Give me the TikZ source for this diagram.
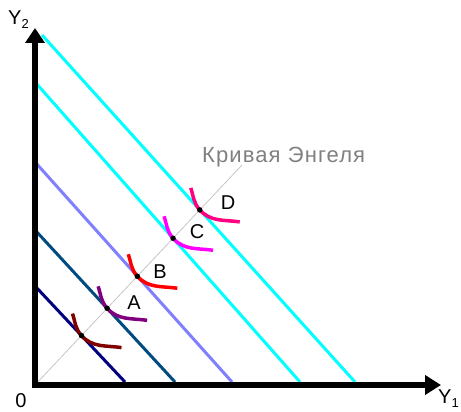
\documentclass[tikz,border=0pt]{standalone}
\usepackage{fontspec}
\setmainfont{Liberation Sans}
\usetikzlibrary{arrows.meta}
\definecolor{navyline}{HTML}{000080}
\definecolor{steelline}{HTML}{004C80}
\definecolor{lilacline}{HTML}{8080FF}
\definecolor{cyanline}{HTML}{00FFFF}
\definecolor{icE}{HTML}{800000}
\definecolor{icA}{HTML}{800080}
\definecolor{icB}{HTML}{FF0000}
\definecolor{icC}{HTML}{FF00FF}
\definecolor{icD}{HTML}{FF0080}

\begin{document}
\begin{tikzpicture}[x=1pt,y=1pt,axis/.style={line width=6pt,line join=miter,{Triangle[length=15pt,width=19pt]}-{Triangle[length=16pt,width=19pt]}},budget/.style={line width=3pt},indiff/.style={line width=3.5pt},engel/.style={draw=gray!45,line width=0.8pt},dot/.style={circle,fill=black,inner sep=0pt,minimum size=5.5pt},lbl/.style={font=\fontsize{20}{20}\selectfont}]
\useasboundingbox (0,0) rectangle (461,412);
\coordinate (o) at (35,27);
\coordinate (ytip) at (35,384);
\coordinate (xtip) at (441,27);
\coordinate (etop) at (242,247);
\coordinate (b1s) at (35,126); \coordinate (b1e) at (125,30);
\coordinate (b2s) at (35,182); \coordinate (b2e) at (175,30);
\coordinate (b3s) at (35,250); \coordinate (b3e) at (232,30);
\coordinate (b4s) at (35,330); \coordinate (b4e) at (300,30);
\coordinate (b5s) at (42,377); \coordinate (b5e) at (355,30);
\coordinate (pe) at (intersection of o--etop and b1s--b1e);
\coordinate (pa) at (intersection of o--etop and b2s--b2e);
\coordinate (pb) at (intersection of o--etop and b3s--b3e);
\coordinate (pc) at (intersection of o--etop and b4s--b4e);
\coordinate (pd) at (intersection of o--etop and b5s--b5e);
% Engel curve
\draw[engel] (o) -- (etop);
\node[font=\fontsize{22}{22}\selectfont\addfontfeatures{LetterSpace=5},text=gray,anchor=base west,inner sep=0pt] (engelname) at (202,249) {Кривая Энгеля};
% budget lines
\draw[budget,navyline] (b1s) -- (b1e);
\draw[budget,steelline] (b2s) -- (b2e);
\draw[budget,lilacline] (b3s) -- (b3e);
\draw[budget,cyanline] (b4s) -- (b4e);
\draw[budget,cyanline] (b5s) -- (b5e);
% indifference curves
\draw[indiff,icE] ([shift={(-9,22)}]pe) to[out=-72,in=132] (pe) to[out=-48,in=172] ([shift={(40,-12)}]pe);
\draw[indiff,icA] ([shift={(-9,22)}]pa) to[out=-72,in=132] (pa) to[out=-48,in=172] ([shift={(40,-12)}]pa);
\draw[indiff,icB] ([shift={(-9,22)}]pb) to[out=-72,in=132] (pb) to[out=-48,in=172] ([shift={(40,-12)}]pb);
\draw[indiff,icC] ([shift={(-9,22)}]pc) to[out=-72,in=132] (pc) to[out=-48,in=172] ([shift={(40,-12)}]pc);
\draw[indiff,icD] ([shift={(-9,22)}]pd) to[out=-72,in=132] (pd) to[out=-48,in=172] ([shift={(40,-12)}]pd);
\foreach \p in {pe,pa,pb,pc,pd} \node[dot] at (\p) {};
\node[lbl] (labA) at (134,109) {A};
\node[lbl] (labB) at (160,140) {B};
\node[lbl] (labC) at (197,180) {C};
\node[lbl] (labD) at (228,209) {D};
% axes
\draw[axis] (ytip) -- (o) -- (xtip);
\node[lbl] (zero) at (21,11) {0};
\node[lbl,anchor=west,inner sep=0pt] (ylab) at (8,392) {Y\raisebox{-4pt}{\fontsize{13}{13}\selectfont 2}};
\node[lbl,anchor=west,inner sep=0pt] (xlab) at (438,13) {Y\raisebox{-4pt}{\fontsize{13}{13}\selectfont 1}};
\end{tikzpicture}
\end{document}
